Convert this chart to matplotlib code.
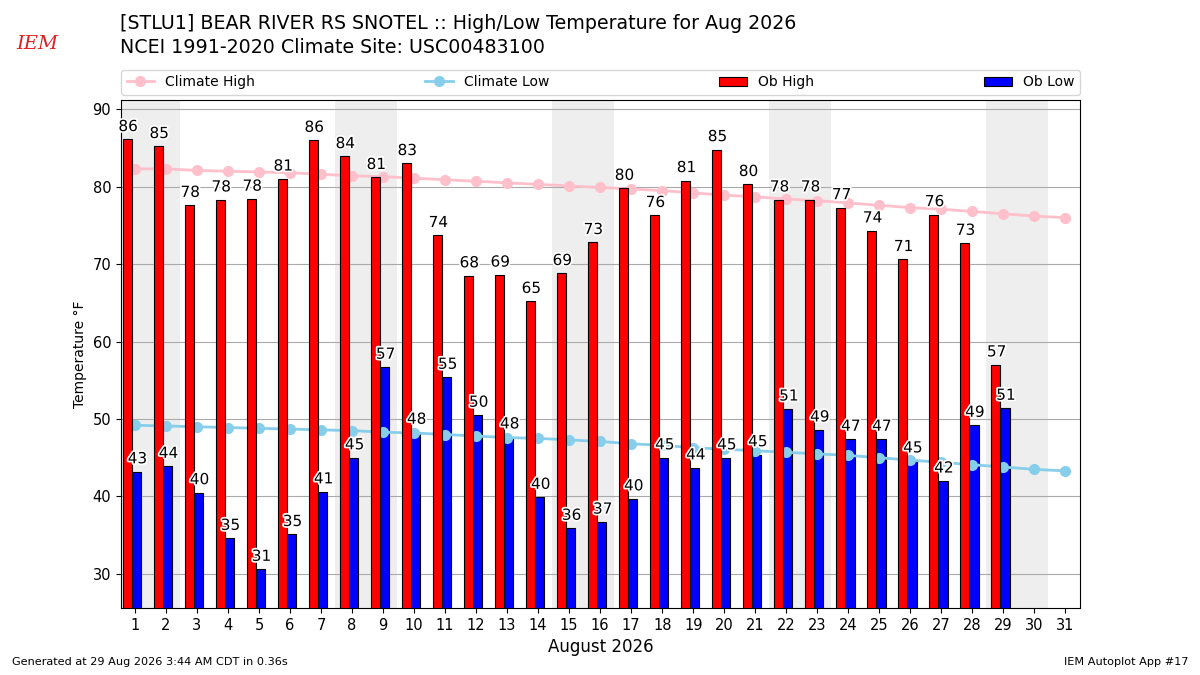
import matplotlib
matplotlib.use("Agg")
import matplotlib.pyplot as plt
import matplotlib.patheffects as pe
import numpy as np

# Dati: agosto 2026, BEAR RIVER RS SNOTEL
days = np.arange(1, 32)
ob_high = [86.1, 85.2, 77.6, 78.3, 78.4, 81.0, 86.0, 83.9, 81.2, 83.0,
           73.7, 68.5, 68.6, 65.2, 68.8, 72.8, 79.8, 76.3, 80.8, 84.8,
           80.3, 78.3, 78.3, 77.3, 74.3, 70.6, 76.4, 72.7, 57.0]
ob_low = [43.2, 43.9, 40.5, 34.6, 30.6, 35.1, 40.6, 45.0, 56.7, 48.3,
          55.4, 50.5, 47.7, 39.9, 35.9, 36.7, 39.7, 45.0, 43.7, 45.0,
          45.4, 51.3, 48.6, 47.4, 47.4, 44.6, 42.0, 49.2, 51.4]
clim_high = [82.3, 82.3, 82.1, 82.0, 81.9, 81.8, 81.6, 81.4, 81.3, 81.1,
             80.9, 80.7, 80.5, 80.3, 80.1, 79.9, 79.7, 79.5, 79.2, 78.9,
             78.7, 78.4, 78.2, 77.9, 77.6, 77.3, 77.1, 76.8, 76.5, 76.2, 76.0]
clim_low = [49.2, 49.1, 49.0, 48.9, 48.8, 48.7, 48.6, 48.5, 48.3, 48.2,
            48.0, 47.8, 47.6, 47.5, 47.3, 47.1, 46.8, 46.6, 46.3, 46.1,
            45.9, 45.7, 45.5, 45.3, 45.0, 44.7, 44.4, 44.1, 43.8, 43.5, 43.3]
weekends = [1, 8, 15, 22, 29]   # sabato di ogni settimana

obs_days = days[:len(ob_high)]

fig = plt.figure(figsize=(12, 6.75), dpi=100)
ax = fig.add_axes([0.1008, 0.0993, 0.7992, 0.7526])

# fasce grigie per il fine settimana
for d in weekends:
    ax.axvspan(d - 0.55, d + 1.45, color="#EEEEEE", zorder=0, lw=0)

ax.bar(obs_days - 0.25, ob_high, width=0.3, color="red", edgecolor="k",
       linewidth=0.8, label="Ob High", zorder=4)
ax.bar(obs_days + 0.05, ob_low, width=0.3, color="blue", edgecolor="k",
       linewidth=0.8, label="Ob Low", zorder=2)

ax.plot(days, clim_high, color="pink", marker="o", markersize=7, lw=2,
        label="Climate High", zorder=3)
ax.plot(days, clim_low, color="skyblue", marker="o", markersize=7, lw=2,
        label="Climate Low", zorder=3)

# etichette sopra le barre, con contorno bianco
stroke = [pe.withStroke(linewidth=2.5, foreground="white")]
for d, h, l in zip(obs_days, ob_high, ob_low):
    ax.text(d - 0.22, h + 0.7, f"{h:.0f}", ha="center", va="bottom",
            fontsize=11, zorder=6, path_effects=stroke)
    ax.text(d + 0.08, l + 0.7, f"{l:.0f}", ha="center", va="bottom",
            fontsize=11, zorder=6, path_effects=stroke)

ax.set_xlim(0.55, 31.47)
ax.set_ylim(25.6, 91.2)
ax.set_xticks(days)
ax.tick_params(axis="both", labelsize=10.5)
ax.set_xlabel("August 2026", fontsize=12)
ax.set_ylabel("Temperature °F", fontsize=10)
ax.grid(axis="y", color="#AAAAAA", lw=0.8, zorder=1)
ax.set_axisbelow(True)

handles, labels = ax.get_legend_handles_labels()
order = [labels.index(n) for n in ["Climate High", "Climate Low", "Ob High", "Ob Low"]]
ax.legend([handles[i] for i in order], [labels[i] for i in order],
          loc="lower left", bbox_to_anchor=(0, 1.01, 1, 0.05), mode="expand",
          ncol=4, fontsize=10, borderaxespad=0)

fig.text(0.1, 0.965, "[STLU1] BEAR RIVER RS SNOTEL :: High/Low Temperature for Aug 2026",
         fontsize=13.7, va="center")
fig.text(0.1, 0.93, "NCEI 1991-2020 Climate Site: USC00483100", fontsize=13.7, va="center")

# logo IEM semplificato
fig.text(0.031, 0.935, "IEM", color="#dd2222", fontsize=14, family="serif",
         style="italic", va="center", ha="center")

fig.text(0.01, 0.015, "Generated at 29 Aug 2026 3:44 AM CDT in 0.36s", fontsize=8.1)
fig.text(0.99, 0.015, "IEM Autoplot App #17", fontsize=8.1, ha="right")

fig.savefig("out.png", dpi=100)
